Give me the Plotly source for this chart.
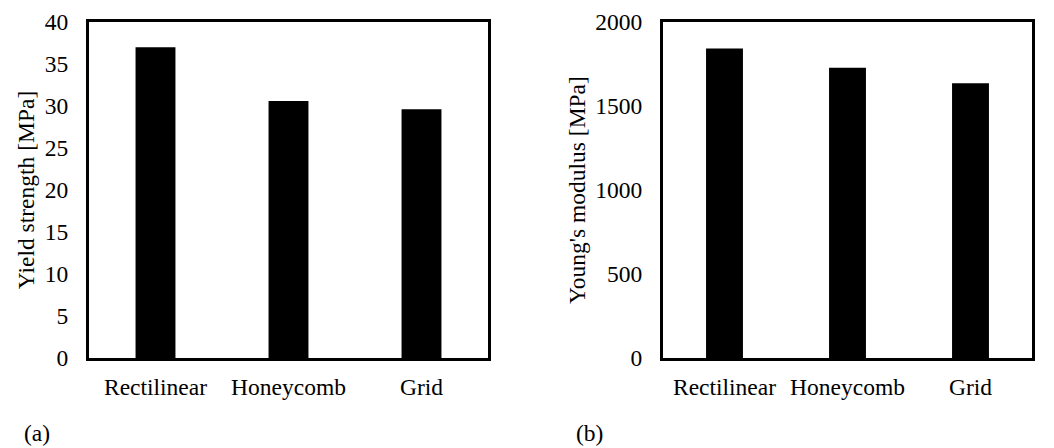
import plotly.graph_objects as go

categories = ["Rectilinear", "Honeycomb", "Grid"]
yield_strength = [37.0, 30.6, 29.6]
youngs_modulus = [1842, 1727, 1635]
ys_ticks = [0, 5, 10, 15, 20, 25, 30, 35, 40]
ym_ticks = [0, 500, 1000, 1500, 2000]

FONT = "Liberation Serif"
FS = 23.5

fig = go.Figure()
fig.add_trace(go.Bar(x=categories, y=yield_strength, marker=dict(color="black", line=dict(width=0)),
                     xaxis="x", yaxis="y", showlegend=False))
fig.add_trace(go.Bar(x=categories, y=youngs_modulus, marker=dict(color="black", line=dict(width=0)),
                     xaxis="x2", yaxis="y2", showlegend=False))

axis_common = dict(showline=True, linecolor="black", linewidth=3, mirror=True,
                   showgrid=False, zeroline=False, ticks="", automargin=False,
                   tickfont=dict(family=FONT, size=FS, color="black"))

fig.update_layout(
    template="none",
    width=1054, height=448,
    margin=dict(l=0, r=0, t=0, b=0, pad=0),
    paper_bgcolor="white", plot_bgcolor="white",
    bargap=0.7,
    font=dict(family=FONT, size=FS, color="black"),
    xaxis=dict(domain=[89/1054, 488/1054], anchor="y", ticklabelstandoff=6, **axis_common),
    yaxis=dict(domain=[1-358/448, 1-22/448], anchor="x", range=[0, 40], tickvals=ys_ticks,
               ticklabelstandoff=13,
               title=dict(text="Yield strength [MPa]", font=dict(family=FONT, size=FS), standoff=4),
               **axis_common),
    xaxis2=dict(domain=[663/1054, 1032/1054], anchor="y2", ticklabelstandoff=6, **axis_common),
    yaxis2=dict(domain=[1-358/448, 1-22/448], anchor="x2", range=[0, 2000], tickvals=ym_ticks,
                ticklabelstandoff=13,
                title=dict(text="Young's modulus [MPa]", font=dict(family=FONT, size=FS), standoff=4),
                **axis_common),
    annotations=[
        dict(text="(a)", x=22/1054, y=1-433/448, xref="paper", yref="paper", xanchor="left", yanchor="middle",
             showarrow=False, font=dict(family=FONT, size=FS)),
        dict(text="(b)", x=574/1054, y=1-433/448, xref="paper", yref="paper", xanchor="left", yanchor="middle",
             showarrow=False, font=dict(family=FONT, size=FS)),
    ],
)

fig.write_html("out.html")
